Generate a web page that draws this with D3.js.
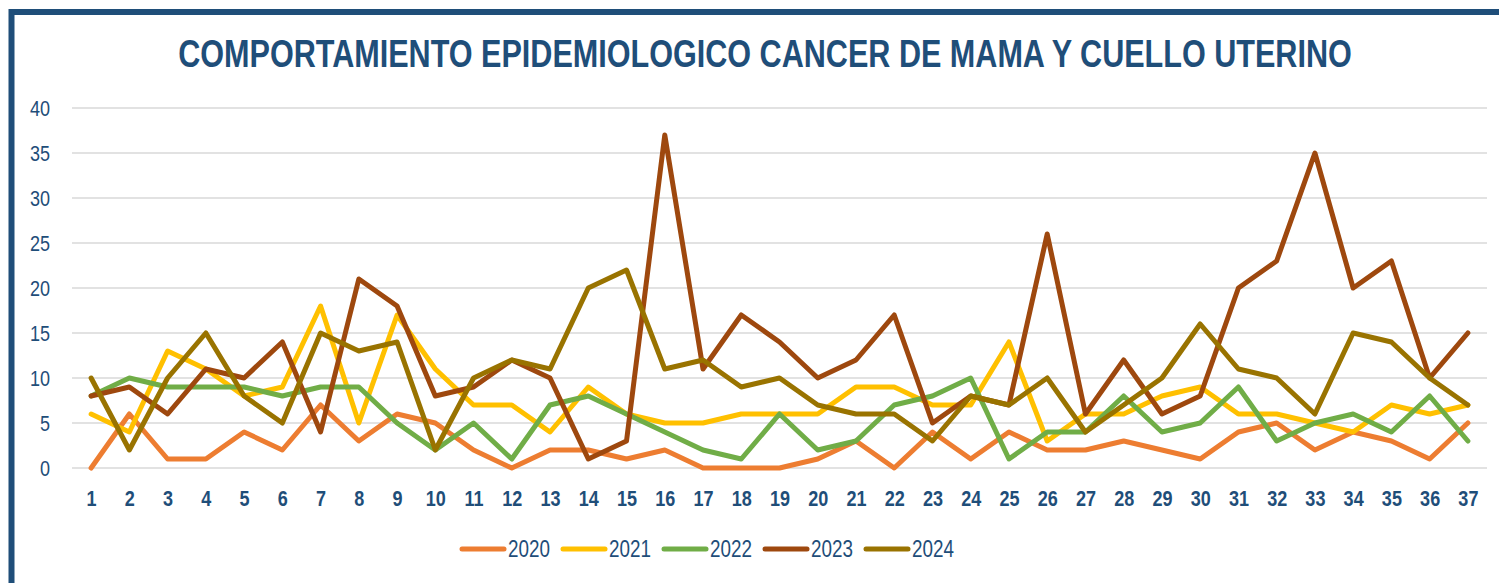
<!DOCTYPE html>
<html>
<head>
<meta charset="utf-8">
<script src="https://cdn.jsdelivr.net/npm/d3@7"></script>
<style>
  html, body { margin: 0; padding: 0; background: #fff; }
</style>
</head>
<body>
<div id="chart"></div>
<script>
const weeks = d3.range(1, 38);
const years = ["2020", "2021", "2022", "2023", "2024"];

const cases2020 = [0, 6, 1, 1, 4, 2, 7, 3, 6, 5, 2, 0, 2, 2, 1, 2, 0, 0, 0, 1, 3, 0, 4, 1, 4, 2, 2, 3, 2, 1, 4, 5, 2, 4, 3, 1, 5];
const cases2021 = [6, 4, 13, 11, 8, 9, 18, 5, 17, 11, 7, 7, 4, 9, 6, 5, 5, 6, 6, 6, 9, 9, 7, 7, 14, 3, 6, 6, 8, 9, 6, 6, 5, 4, 7, 6, 7];
const cases2022 = [8, 10, 9, 9, 9, 8, 9, 9, 5, 2, 5, 1, 7, 8, 6, 4, 2, 1, 6, 2, 3, 7, 8, 10, 1, 4, 4, 8, 4, 5, 9, 3, 5, 6, 4, 8, 3];
const cases2023 = [8, 9, 6, 11, 10, 14, 4, 21, 18, 8, 9, 12, 10, 1, 3, 37, 11, 17, 14, 10, 12, 17, 5, 8, 7, 26, 6, 12, 6, 8, 20, 23, 35, 20, 23, 10, 15];
const cases2024 = [10, 2, 10, 15, 8, 5, 15, 13, 14, 2, 10, 12, 11, 20, 22, 11, 12, 9, 10, 7, 6, 6, 3, 8, 7, 10, 4, 7, 10, 16, 11, 10, 6, 15, 14, 10, 7];

const yTicks = [0, 5, 10, 15, 20, 25, 30, 35, 40];
const seriesColors = ["#ED7D31", "#FFC000", "#70AD47", "#9E480E", "#997300"];

const series = years.map((year, i) => ({
  year,
  color: seriesColors[i],
  values: [cases2020, cases2021, cases2022, cases2023, cases2024][i]
}));

const width = 1499;
const height = 583;
const plotLeft = 72;
const plotRight = 1487;
const plotTop = 108;
const plotBottom = 468;
const textColor = "#1F4E79";
const narrowFont = "'Liberation Sans Narrow', 'Arial Narrow', 'Liberation Sans', Arial, sans-serif";
const squeeze = "scale(0.82,1)"; // fake a narrow face when only the regular one exists

const svg = d3
  .create("svg")
  .attr("viewBox", [0, 0, width, height])
  .attr("width", width)
  .attr("height", height)
  .style("font-family", narrowFont);

d3.select("#chart").append(() => svg.node());

// frame (top and left edges only show in the crop)
svg
  .append("path")
  .attr("d", `M11.5,${height + 5} V12 H${width + 5}`)
  .attr("fill", "none")
  .attr("stroke", textColor)
  .attr("stroke-width", 6);

// title, squeezed to the reference width
const title = svg
  .append("text")
  .attr("x", 0)
  .attr("y", 0)
  .attr("text-anchor", "middle")
  .attr("font-size", 39)
  .attr("font-weight", "bold")
  .attr("fill", textColor)
  .text("COMPORTAMIENTO EPIDEMIOLOGICO CANCER DE MAMA Y CUELLO UTERINO");

const titleWidth = title.node().getComputedTextLength() || 1174;
title.attr("transform", `translate(765,67) scale(${Math.min(1, 1174 / titleWidth)},1)`);

const x = d3
  .scalePoint()
  .domain(weeks)
  .range([plotLeft, plotRight])
  .padding(0.5);

const y = d3
  .scaleLinear()
  .domain([0, 40])
  .range([plotBottom, plotTop]);

// gridlines
svg
  .append("g")
  .selectAll("line")
  .data(yTicks)
  .join("line")
  .attr("x1", plotLeft)
  .attr("x2", plotRight)
  .attr("y1", (d) => y(d))
  .attr("y2", (d) => y(d))
  .attr("stroke", "#D9D9D9")
  .attr("stroke-width", 1.5);

// y axis labels
const yAxis = svg
  .append("g")
  .attr("transform", `translate(${plotLeft - 22},0)`)
  .call(d3.axisLeft(y).tickValues(yTicks).tickSize(0).tickPadding(0));
yAxis.select(".domain").remove();
yAxis
  .selectAll("text")
  .attr("font-family", narrowFont)
  .attr("font-size", 22)
  .attr("fill", textColor)
  .attr("transform", squeeze);

// x axis labels
const xAxis = svg
  .append("g")
  .attr("transform", `translate(0,${plotBottom})`)
  .call(d3.axisBottom(x).tickSize(0).tickPadding(22));
xAxis.select(".domain").remove();
xAxis
  .selectAll("text")
  .attr("font-family", narrowFont)
  .attr("font-size", 22)
  .attr("font-weight", "bold")
  .attr("fill", textColor)
  .attr("transform", squeeze);

const line = d3
  .line()
  .x((d, i) => x(weeks[i]))
  .y((d) => y(d));

// series lines
svg
  .append("g")
  .selectAll("path")
  .data(series)
  .join("path")
  .attr("d", (d) => line(d.values))
  .attr("fill", "none")
  .attr("stroke", (d) => d.color)
  .attr("stroke-width", 5)
  .attr("stroke-linejoin", "round")
  .attr("stroke-linecap", "round");

// legend
const legend = svg
  .append("g")
  .attr("transform", "translate(460,549)");

const legendItem = legend
  .selectAll("g")
  .data(series)
  .join("g")
  .attr("transform", (d, i) => `translate(${i * 101},0)`);

legendItem
  .append("line")
  .attr("x1", 2)
  .attr("x2", 44)
  .attr("stroke", (d) => d.color)
  .attr("stroke-width", 5)
  .attr("stroke-linecap", "round");

legendItem
  .append("text")
  .attr("transform", `translate(48,0) ${squeeze}`)
  .attr("dy", "0.36em")
  .attr("font-size", 23)
  .attr("fill", textColor)
  .text((d) => d.year);
</script>
</body>
</html>
